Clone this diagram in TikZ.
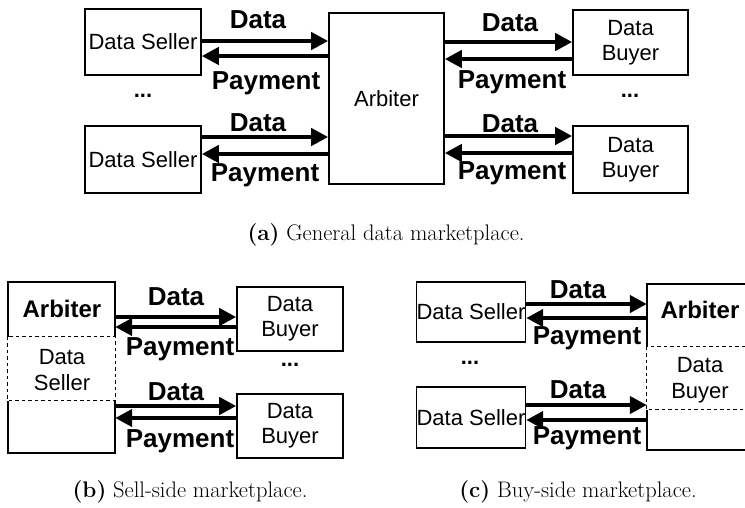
\documentclass[tikz,border=0pt]{standalone}
\usepackage{fontspec}
\newfontfamily\hv{Liberation Sans}
\usetikzlibrary{arrows.meta,calc}
\begin{document}
\begin{tikzpicture}[x=1pt,y=-1pt,
  party/.style={draw,line width=1.6pt,inner sep=0pt,align=center,font=\hv\fontsize{22}{25}\selectfont},
  col/.style={inner sep=0pt},
  flow/.style={line width=4.2pt,-{Triangle[length=17pt,width=17pt]}},
  lbl/.style={font=\hv\bfseries\fontsize{26}{28}\selectfont,inner sep=0pt},
  dots/.style={font=\hv\bfseries\fontsize{22}{24}\selectfont,inner sep=0pt},
  inner/.style={font=\hv\fontsize{22}{26}\selectfont,align=center,inner sep=0pt},
  bigname/.style={font=\hv\bfseries\fontsize{24}{26}\selectfont,inner sep=0pt},
  solidedge/.style={line width=1.6pt},
  dashedge/.style={line width=1.3pt,dash pattern=on 3.5pt off 3pt},
  subcap/.style={font=\fontsize{22.5}{26}\selectfont,inner sep=0pt}]
\useasboundingbox (0,0) rectangle (745,507);
\clip (0,0) rectangle (745,507);

% ---------- (a) general marketplace ----------
\node[party,minimum width=116,minimum height=66] (s1) at (143,42) {Data Seller};
\node[party,minimum width=116,minimum height=67] (s2) at (143,159.5) {Data Seller};
\node[party,minimum width=115,minimum height=171] (arb) at (386.5,98.5) {Arbiter};
\node[party,minimum width=115,minimum height=65] (b1) at (630.5,42.5) {Data\\Buyer};
\node[party,minimum width=115,minimum height=67] (b2) at (630.5,159.5) {Data\\Buyer};

\draw[flow] ([yshift=1pt]s1.east) -- ([yshift=1pt]s1.east -| arb.west);
\draw[flow] ([yshift=-14pt]s1.east -| arb.west) -- ([yshift=-14pt]s1.east);
\draw[flow] ([yshift=22.5pt]s2.east) -- ([yshift=22.5pt]s2.east -| arb.west);
\draw[flow] ([yshift=5.5pt]s2.east -| arb.west) -- ([yshift=5.5pt]s2.east);
\draw[flow] ([yshift=0.5pt]b1.west -| arb.east) -- ([yshift=0.5pt]b1.west);
\draw[flow] ([yshift=-16.5pt]b1.west) -- ([yshift=-16.5pt]b1.west -| arb.east);
\draw[flow] ([yshift=23.5pt]b2.west -| arb.east) -- ([yshift=23.5pt]b2.west);
\draw[flow] ([yshift=6.5pt]b2.west) -- ([yshift=6.5pt]b2.west -| arb.east);

\node[lbl] (ad1) at (258,20) {Data};
\node[lbl] (ap1) at (266,83) {Payment};
\node[lbl] (ad2) at (258,123) {Data};
\node[lbl] (ap2) at (265,175) {Payment};
\node[lbl] (ad3) at (510,23) {Data};
\node[lbl] (ap3) at (512,82) {Payment};
\node[lbl] (ad4) at (510,124) {Data};
\node[lbl] (ap4) at (512,173) {Payment};
\node[dots] (adots1) at (143,96) {...};
\node[dots] (adots2) at (630,96) {...};

\node[subcap] (capa) at (386,235) {\textbf{(a)} General data marketplace.};

% ---------- (b) sell-side marketplace ----------
\node[col,minimum width=107,minimum height=171] (colb) at (61.5,367.5) {};
\coordinate (bl1) at ($(colb.north west)+(0,55)$);
\coordinate (br1) at ($(colb.north east)+(0,55)$);
\coordinate (bl2) at ($(colb.north west)+(0,119)$);
\coordinate (br2) at ($(colb.north east)+(0,119)$);
\draw[solidedge] (bl1) -- (colb.north west) -- (colb.north east) -- (br1);
\draw[solidedge] (bl2) -- (colb.south west) -- (colb.south east) -- (br2);
\draw[dashedge] (bl1) rectangle (br2);
\node[bigname] (arbb) at (62,309) {Arbiter};
\node[inner] (sellb) at (62,370) {Data\\Seller};

\node[party,minimum width=106,minimum height=64] (bb1) at (290,319) {Data\\Buyer};
\node[party,minimum width=106,minimum height=64] (bb2) at (290,426) {Data\\Buyer};

\draw[flow] ([yshift=2pt]bb1.west -| colb.east) -- ([yshift=2pt]bb1.west);
\draw[flow] ([yshift=-8pt]bb1.west) -- ([yshift=-8pt]bb1.west -| colb.east);
\draw[flow] ([yshift=20pt]bb2.west -| colb.east) -- ([yshift=20pt]bb2.west);
\draw[flow] ([yshift=8pt]bb2.west) -- ([yshift=8pt]bb2.west -| colb.east);

\node[lbl] (bd1) at (176,297) {Data};
\node[lbl] (bp1) at (180,349) {Payment};
\node[lbl] (bd2) at (176,392) {Data};
\node[lbl] (bp2) at (180,441) {Payment};
\node[dots] (bdots) at (290,365) {...};

\node[subcap] (capb) at (190,492) {\textbf{(b)} Sell-side marketplace.};

% ---------- (c) buy-side marketplace ----------
\node[col,minimum width=106,minimum height=166] (colc) at (700,367) {};
\coordinate (cl1) at ($(colc.north west)+(0,63)$);
\coordinate (cr1) at ($(colc.north east)+(0,63)$);
\coordinate (cl2) at ($(colc.north west)+(0,126)$);
\coordinate (cr2) at ($(colc.north east)+(0,126)$);
\draw[solidedge] (cl1) -- (colc.north west) -- (colc.north east) -- (cr1);
\draw[solidedge] (cl2) -- (colc.south west) -- (colc.south east) -- (cr2);
\draw[dashedge] (cl1) rectangle (cr2);
\node[bigname] (arbc) at (700,310) {Arbiter};
\node[inner] (buyc) at (700,380) {Data\\Buyer};

\node[party,minimum width=108,minimum height=60] (cs1) at (471,312) {Data Seller};
\node[party,minimum width=108,minimum height=61] (cs2) at (471,417.5) {Data Seller};

\draw[flow] ([yshift=8pt]cs1.east) -- ([yshift=8pt]cs1.east -| colc.west);
\draw[flow] ([yshift=-6pt]cs1.east -| colc.west) -- ([yshift=-6pt]cs1.east);
\draw[flow] ([yshift=12.5pt]cs2.east) -- ([yshift=12.5pt]cs2.east -| colc.west);
\draw[flow] ([yshift=-2.5pt]cs2.east -| colc.west) -- ([yshift=-2.5pt]cs2.east);

\node[lbl] (cd1) at (578,290) {Data};
\node[lbl] (cp1) at (587,338) {Payment};
\node[lbl] (cd2) at (578,390) {Data};
\node[lbl] (cp2) at (587,438) {Payment};
\node[dots] (cdots) at (470,363) {...};

\node[subcap] (capc) at (578,492) {\textbf{(c)} Buy-side marketplace.};
\end{tikzpicture}
\end{document}
